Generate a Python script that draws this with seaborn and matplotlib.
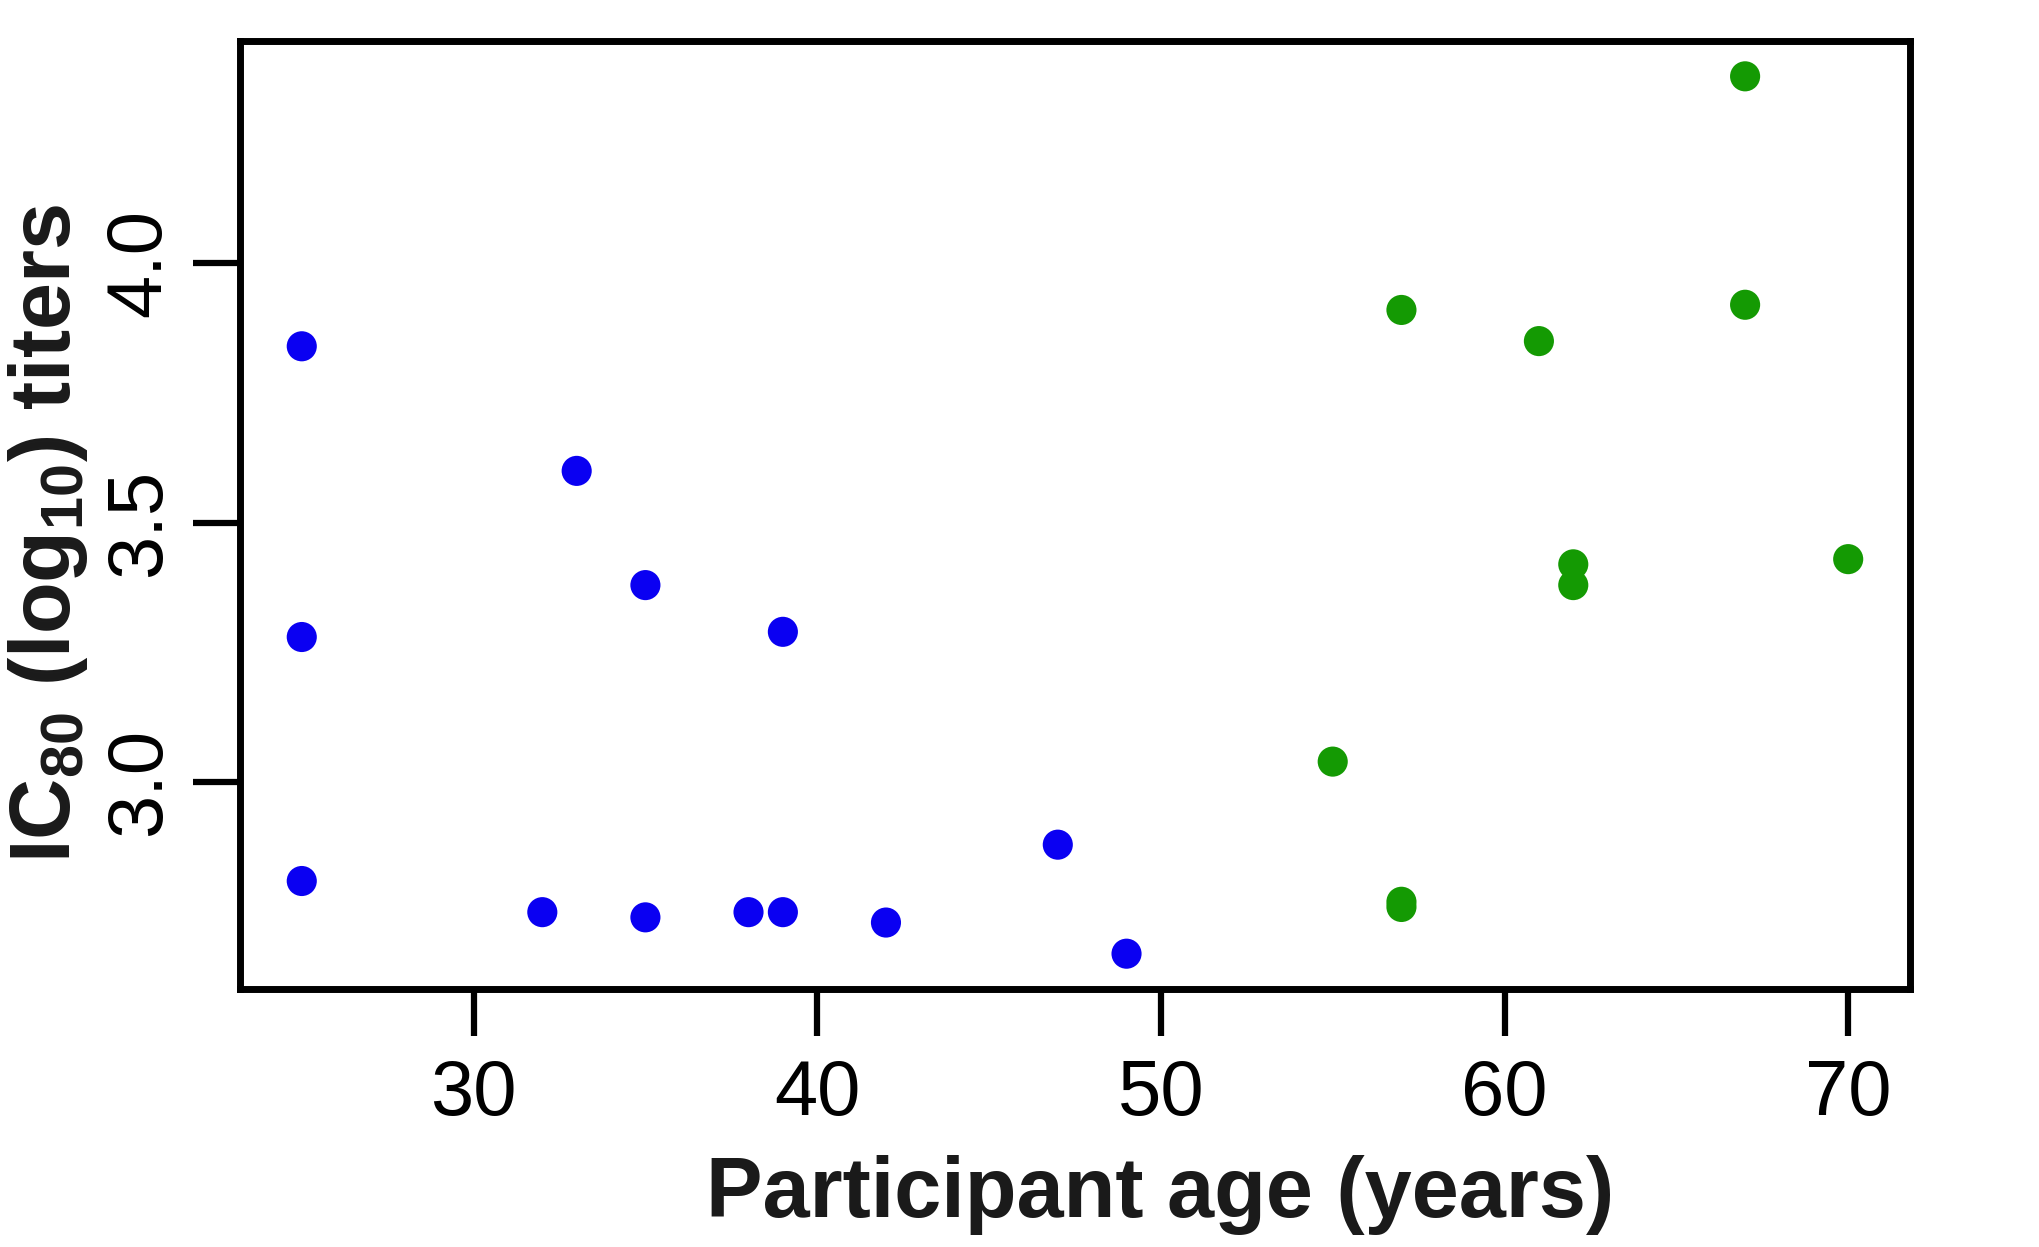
import pandas as pd
import seaborn as sns
import matplotlib.pyplot as plt

# ages and IC80 titers
young_age = [25, 25, 25, 32, 33, 35, 35, 38, 39, 39, 42, 47, 49]
young_titer = [3.84, 3.28, 2.81, 2.75, 3.60, 3.38, 2.74, 2.75, 2.75, 3.29, 2.73, 2.88, 2.67]
old_age = [55, 57, 57, 57, 61, 62, 62, 67, 67, 70]
old_titer = [3.04, 3.91, 2.77, 2.76, 3.85, 3.42, 3.38, 4.36, 3.92, 3.43]

xticks = [30, 40, 50, 60, 70]
yticks = [3.0, 3.5, 4.0]

df = pd.DataFrame({
    'age': young_age + old_age,
    'titer': young_titer + old_titer,
    'group': ['young'] * len(young_age) + ['old'] * len(old_age),
})

sns.set_style('white')
plt.rcParams['font.family'] = ['Liberation Sans', 'DejaVu Sans']
plt.rcParams['mathtext.fontset'] = 'custom'
plt.rcParams['mathtext.rm'] = 'Liberation Sans:bold'
plt.rcParams['mathtext.it'] = 'Liberation Sans:bold'
plt.rcParams['mathtext.bf'] = 'Liberation Sans:bold'

fig = plt.figure(figsize=(20.4, 12.47), dpi=100)
ax = fig.add_axes([0.1176, 0.2069, 0.8187, 0.7602])

sns.scatterplot(data=df, x='age', y='titer', hue='group',
                palette={'young': '#0A00F2', 'old': '#149A03'},
                s=470, linewidth=0, legend=False, ax=ax)

# R-style axis limits (4% padding)
ax.set_xlim(23.2, 71.8)
ax.set_ylim(2.602, 4.428)
ax.set_xticks(xticks)
ax.set_xticklabels([str(t) for t in xticks])
ax.set_yticks(yticks)
ax.set_yticklabels([f'{t:.1f}' for t in yticks], rotation=90, va='center')

for sp in ax.spines.values():
    sp.set_visible(True)
    sp.set_color('black')
    sp.set_linewidth(5)

ax.tick_params(axis='both', direction='out', length=34, width=4.5,
               color='black', labelsize=56, labelcolor='black',
               bottom=True, left=True)
ax.tick_params(axis='x', pad=16)
ax.tick_params(axis='y', pad=12)

ax.set_xlabel('Participant age (years)', fontsize=61, fontweight='bold',
              color='#1a1a1a')
ax.set_ylabel('IC$_{80}$ (log$_{10}$) titers', fontsize=61,
              fontweight='bold', color='#1a1a1a')
ax.xaxis.set_label_coords(0.551, -0.175)
ax.yaxis.set_label_coords(-0.09, 0.481)

fig.savefig('out.png', dpi=100, facecolor='white')
